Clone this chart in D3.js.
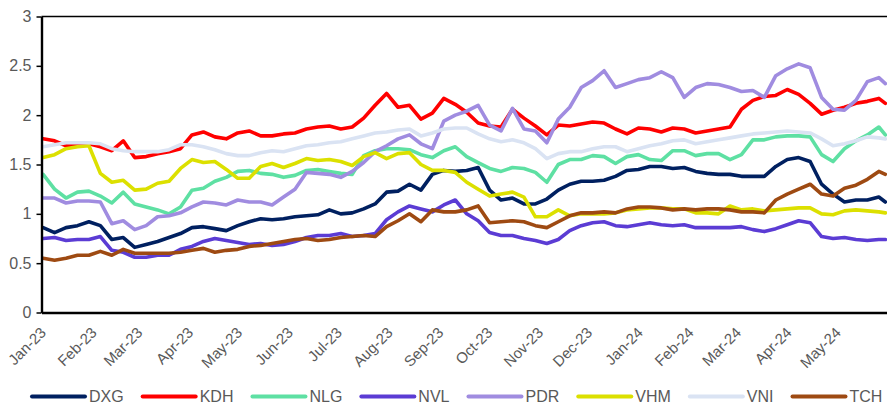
<!DOCTYPE html>
<html><head><meta charset="utf-8">
<script src="https://cdn.jsdelivr.net/npm/d3@7/dist/d3.min.js"></script>
<style>
body{margin:0;background:#fff}
svg{display:block}
text{font-family:"Liberation Sans",Arial,sans-serif}
</style>
</head><body>
<svg id="chart" width="887" height="405"></svg>
<script>
const seriesNames = ["DXG","KDH","NLG","NVL","PDR","VHM","VNI","TCH"];
const seriesColors = ["#002060","#FF0000","#5EE0A3","#5B3CD4","#A08CE0","#DCE000","#DAE3F3","#9E4A12"];
const DXG = [0.86,0.81,0.86,0.88,0.92,0.88,0.74,0.76,0.66,0.69,
0.72,0.76,0.80,0.86,0.87,0.85,0.83,0.88,0.92,0.95,
0.94,0.95,0.97,0.98,0.99,1.04,1.00,1.01,1.05,1.10,
1.22,1.23,1.30,1.24,1.40,1.44,1.43,1.44,1.47,1.24,
1.14,1.16,1.10,1.10,1.15,1.24,1.30,1.33,1.33,1.34,
1.38,1.44,1.45,1.48,1.48,1.46,1.47,1.43,1.41,1.40,
1.40,1.38,1.38,1.38,1.48,1.55,1.57,1.53,1.30,1.20,
1.12,1.14,1.14,1.17,1.12];
const KDH = [1.76,1.74,1.69,1.70,1.71,1.68,1.64,1.74,1.57,1.58,
1.61,1.63,1.66,1.80,1.83,1.78,1.76,1.82,1.84,1.79,
1.79,1.81,1.82,1.86,1.88,1.89,1.86,1.88,1.97,2.10,
2.22,2.08,2.10,1.96,2.02,2.17,2.11,2.03,1.92,1.89,
1.88,2.06,1.97,1.89,1.80,1.90,1.89,1.91,1.93,1.92,
1.86,1.81,1.87,1.86,1.83,1.87,1.86,1.82,1.84,1.86,
1.88,2.06,2.15,2.19,2.20,2.26,2.21,2.12,2.01,2.05,
2.08,2.12,2.14,2.17,2.12];
const NLG = [1.40,1.25,1.16,1.22,1.23,1.18,1.11,1.22,1.10,1.07,
1.04,1.00,1.07,1.24,1.26,1.33,1.37,1.43,1.44,1.41,
1.40,1.37,1.39,1.44,1.45,1.43,1.41,1.40,1.59,1.64,
1.66,1.66,1.65,1.60,1.57,1.64,1.68,1.58,1.52,1.46,
1.43,1.47,1.46,1.42,1.32,1.50,1.55,1.55,1.59,1.58,
1.51,1.58,1.60,1.55,1.54,1.64,1.64,1.59,1.61,1.61,
1.55,1.60,1.75,1.75,1.78,1.79,1.79,1.78,1.60,1.53,
1.66,1.74,1.80,1.88,1.80];
const NVL = [0.75,0.76,0.73,0.74,0.74,0.77,0.63,0.61,0.56,0.56,
0.58,0.58,0.64,0.67,0.72,0.75,0.73,0.71,0.69,0.70,
0.68,0.69,0.72,0.76,0.78,0.78,0.80,0.77,0.78,0.80,
0.94,1.02,1.08,1.05,1.02,1.09,1.14,1.00,0.93,0.81,
0.78,0.78,0.75,0.73,0.70,0.74,0.83,0.88,0.91,0.92,
0.88,0.87,0.89,0.91,0.89,0.88,0.89,0.86,0.86,0.86,
0.86,0.87,0.84,0.82,0.85,0.89,0.93,0.91,0.77,0.75,
0.76,0.74,0.73,0.74,0.74];
const PDR = [1.16,1.16,1.11,1.13,1.13,1.12,0.90,0.93,0.84,0.88,
0.97,0.98,1.01,1.07,1.12,1.11,1.09,1.14,1.12,1.12,
1.09,1.17,1.25,1.42,1.41,1.40,1.37,1.43,1.52,1.63,
1.69,1.76,1.80,1.71,1.66,1.94,2.00,2.04,2.10,1.90,
1.84,2.07,1.86,1.84,1.72,1.96,2.08,2.28,2.35,2.45,
2.28,2.32,2.36,2.38,2.44,2.38,2.18,2.28,2.32,2.31,
2.28,2.24,2.25,2.18,2.40,2.47,2.52,2.48,2.18,2.06,
2.05,2.15,2.34,2.38,2.32];
const VHM = [1.57,1.60,1.66,1.68,1.69,1.41,1.32,1.34,1.24,1.25,
1.31,1.33,1.46,1.55,1.52,1.53,1.45,1.36,1.36,1.48,
1.51,1.47,1.51,1.56,1.54,1.55,1.53,1.49,1.58,1.62,
1.56,1.61,1.62,1.50,1.44,1.44,1.42,1.32,1.25,1.18,
1.20,1.22,1.17,0.97,0.97,1.04,0.98,1.00,1.00,1.00,
1.01,1.04,1.05,1.06,1.06,1.05,1.05,1.01,1.01,1.00,
1.08,1.04,1.05,1.03,1.04,1.05,1.06,1.06,1.00,0.99,
1.03,1.04,1.03,1.02,1.01];
const VNI = [1.68,1.70,1.72,1.72,1.72,1.71,1.66,1.64,1.63,1.63,
1.63,1.65,1.70,1.70,1.68,1.65,1.61,1.59,1.59,1.62,
1.64,1.63,1.66,1.69,1.70,1.72,1.73,1.76,1.79,1.82,
1.83,1.85,1.86,1.79,1.82,1.86,1.87,1.87,1.81,1.76,
1.73,1.75,1.72,1.66,1.56,1.61,1.63,1.63,1.66,1.68,
1.68,1.63,1.66,1.69,1.71,1.74,1.75,1.71,1.73,1.75,
1.77,1.79,1.81,1.82,1.83,1.84,1.83,1.82,1.76,1.69,
1.71,1.74,1.78,1.77,1.76];
const TCH = [0.55,0.53,0.55,0.58,0.58,0.62,0.58,0.64,0.60,0.60,
0.60,0.60,0.61,0.63,0.65,0.61,0.63,0.64,0.67,0.68,
0.70,0.72,0.74,0.75,0.73,0.74,0.76,0.77,0.78,0.77,
0.87,0.93,1.00,0.92,1.04,1.02,1.02,1.04,1.08,0.91,
0.92,0.93,0.92,0.88,0.86,0.92,0.98,1.01,1.01,1.02,
1.01,1.05,1.07,1.07,1.06,1.04,1.05,1.04,1.05,1.05,
1.04,1.02,1.02,1.01,1.14,1.20,1.25,1.30,1.20,1.18,
1.26,1.29,1.35,1.43,1.40];
const yTickValues = [0,0.5,1,1.5,2,2.5,3];
const xTickLabels = ["Jan-23","Feb-23","Mar-23","Apr-23","May-23","Jun-23","Jul-23","Aug-23","Sep-23","Oct-23","Nov-23","Dec-23","Jan-24","Feb-24","Mar-24","Apr-24","May-24"];
const firstDate = "2023-01-02", lastWeekly = "2024-05-28", lastDate = "2024-05-31";

(function(){
const parseISO = d3.timeParse("%Y-%m-%d");
const dates = d3.timeDay.range(parseISO(firstDate), parseISO(lastWeekly), 7);
dates.push(parseISO(lastDate));

const allSeries = [DXG,KDH,NLG,NVL,PDR,VHM,VNI,TCH];
const svg = d3.select("#chart");
const pl = 41.5, pr = 887, pt = 16.5, pb = 312.5;

const x = d3.scaleTime().domain([new Date(2023,0,1), new Date(2024,5,1)]).range([pl, pr]);
const y = d3.scaleLinear().domain([0,3]).range([pb, pt]);

svg.append("line").attr("x1",pl).attr("x2",pr).attr("y1",y(3)).attr("y2",y(3))
  .attr("stroke","#000").attr("stroke-width",1.3);

const line = d3.line().x((d,i)=>x(dates[i])).y(d=>y(d));
allSeries.forEach((s,k)=>{
  svg.append("path").datum(s).attr("d",line).attr("fill","none")
    .attr("stroke",seriesColors[k]).attr("stroke-width",3.6)
    .attr("stroke-linejoin","round").attr("stroke-linecap","round");
});

const yAxis = svg.append("g").attr("transform",`translate(${pl},0)`)
  .call(d3.axisLeft(y).tickValues(yTickValues).tickSize(5).tickSizeOuter(0).tickPadding(5).tickFormat(d3.format("")));
yAxis.select(".domain").attr("stroke","#000").attr("stroke-width",2.4);
yAxis.selectAll(".tick line").attr("stroke","#000").attr("stroke-width",1.5);
yAxis.selectAll("text").attr("fill","#595959").style("font-size","16px");

const parseLabel = d3.timeParse("%b-%y");
const xAxis = svg.append("g").attr("transform",`translate(0,${pb})`)
  .call(d3.axisBottom(x).tickValues(xTickLabels.map(parseLabel)).tickSize(0).tickSizeOuter(0).tickFormat(d3.timeFormat("%b-%y")));
xAxis.select(".domain").attr("stroke","#000").attr("stroke-width",2.6);
xAxis.selectAll("text").attr("fill","#595959").style("font-size","15px")
  .attr("x",0).attr("y",0).attr("dy",null).attr("text-anchor","end")
  .attr("transform","translate(5,21) rotate(-45)");

let lx = 32;
const ly = 396.5;
seriesNames.forEach((n,k)=>{
  const g = svg.append("g");
  g.append("line").attr("x1",lx).attr("x2",lx+53).attr("y1",ly).attr("y2",ly)
    .attr("stroke",seriesColors[k]).attr("stroke-width",4).attr("stroke-linecap","round");
  const t = g.append("text").attr("x",lx+57).attr("y",ly+5.5).attr("fill","#595959")
    .style("font-size","16px").text(n);
  lx = lx + 57 + t.node().getComputedTextLength() + 19;
});
})();
</script>
</body></html>
